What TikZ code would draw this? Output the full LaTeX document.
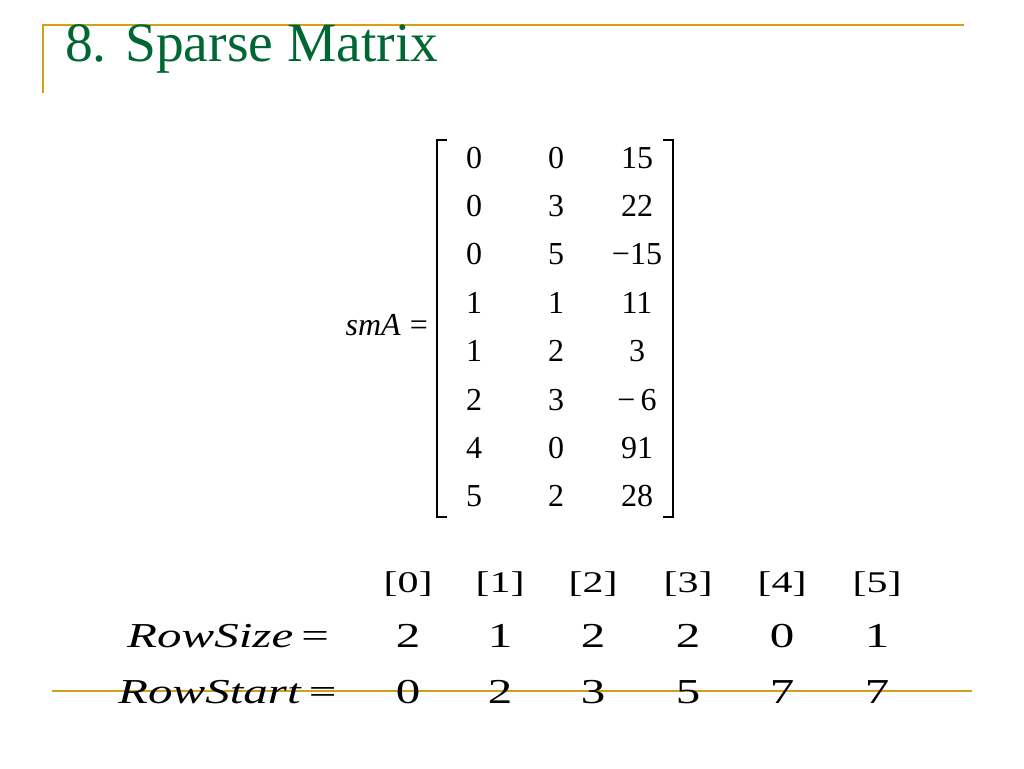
\documentclass[tikz,border=0pt]{standalone}
\usepackage{fontspec}
\setmainfont{Liberation Serif}
\definecolor{gold}{RGB}{212,160,24}
\definecolor{titlegreen}{RGB}{0,102,51}
\tikzset{
  rule/.style={draw=gold, line width=2pt},
  brk/.style={draw=black, line width=1.6pt},
  titletext/.style={anchor=base west, inner sep=0pt, text=titlegreen, font=\fontsize{55.5}{58}\selectfont},
  ent/.style={anchor=base, inner sep=0pt, font=\fontsize{32}{34}\selectfont},
  idx/.style={anchor=base, inner sep=0pt, font=\fontsize{30}{32}\selectfont},
  num/.style={anchor=base, inner sep=0pt, font=\fontsize{35}{37}\selectfont},
  lbl/.style={anchor=base west, inner sep=0pt, font=\fontsize{35}{37}\selectfont\itshape}
}
\newcommand{\wide}[1]{\scalebox{1.4}[1]{#1}}
\begin{document}
\begin{tikzpicture}[x=1pt,y=-1pt]
\useasboundingbox[fill=white] (0,0) rectangle (1024,768);
% decorative rules
\coordinate (tl) at (43,25);
\coordinate (tr) at (964,25);
\coordinate (bl) at (43,93);
\coordinate (ll) at (52,691);
\coordinate (lr) at (972,691);
\draw[rule] (bl) -- (tl) -- (tr);
% title
\node[titletext] (title) at (65,62) {8. Sparse Matrix};
% matrix label
\node[anchor=base east, inner sep=0pt, font=\fontsize{32}{34}\selectfont] (sma) at (428,335) {\textit{smA}\;=};
% brackets
\coordinate (lb1) at (447,140);
\coordinate (lb2) at (437,140);
\coordinate (lb3) at (437,517);
\coordinate (lb4) at (447,517);
\coordinate (rb1) at (663,140);
\coordinate (rb2) at (673,140);
\coordinate (rb3) at (673,517);
\coordinate (rb4) at (663,517);
\draw[brk] (lb1) -- (lb2) -- (lb3) -- (lb4);
\draw[brk] (rb1) -- (rb2) -- (rb3) -- (rb4);
% entries
\foreach \a/\b/\c [count=\i from 0] in {0/0/15, 0/3/22, 0/5/{\char"2212 15}, 1/1/11, 1/2/3, 2/3/{\char"2212\,6}, 4/0/91, 5/2/28}{
  \node[ent] (m\i a) at (474,168+48.4*\i) {\a};
  \node[ent] (m\i b) at (556,168+48.4*\i) {\b};
  \node[ent] (m\i c) at (637,168+48.4*\i) {\c};
}
% index row
\foreach \x/\t [count=\i from 0] in {408/0,500/1,593/2,688/3,782/4,877/5}{
  \node[idx] (ix\i) at (\x,592) {\wide{[\t]}};
}
% labels
\node[lbl] (rsz) at (127,647) {\wide{RowSize\,\upshape=}};
% bottom rule (drawn under the last row)
\draw[rule] (ll) -- (lr);
\node[lbl] (rst) at (118,703) {\wide{RowStart\,\upshape=}};
\foreach \x/\s/\t [count=\i from 0] in {408/2/0,500/1/2,593/2/3,688/2/5,782/0/7,877/1/7}{
  \node[num] (sz\i) at (\x,647) {\wide{\s}};
  \node[num] (st\i) at (\x,703) {\wide{\t}};
}
\end{tikzpicture}
\end{document}
